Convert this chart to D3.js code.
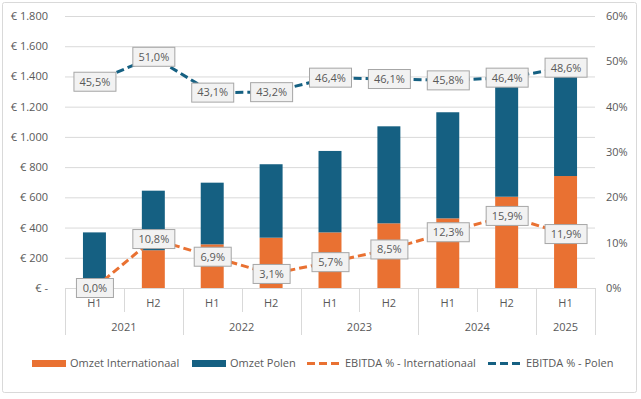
<!DOCTYPE html>
<html><head><meta charset="utf-8">
<script src="https://cdn.jsdelivr.net/npm/d3@7"></script>
<style>body{margin:0;background:#fff}svg{display:block}text{font-family:"Open Sans",sans-serif;fill:#595959}</style>
</head><body><svg id="c" width="641" height="399"></svg>
<script>
const halves = ["H1","H2","H1","H2","H1","H2","H1","H2","H1"];
const years = ["2021","2021","2022","2022","2023","2023","2024","2024","2025"];
const omzetInternationaal = [0, 250, 289, 333, 368, 428, 461, 604, 741];
const omzetPolen = [368, 394, 408, 486, 539, 642, 702, 756, 662];
const ebitdaInternationaal = [0.0, 10.8, 6.9, 3.1, 5.7, 8.5, 12.3, 15.9, 11.9];
const ebitdaPolen = [45.5, 51.0, 43.1, 43.2, 46.4, 46.1, 45.8, 46.4, 48.6];
const leftTicks = [0, 200, 400, 600, 800, 1000, 1200, 1400, 1600, 1800];
const rightTicks = [0, 10, 20, 30, 40, 50, 60];
const seriesNames = ["Omzet Internationaal", "Omzet Polen", "EBITDA % - Internationaal", "EBITDA % - Polen"];

const ORANGE = "#E97132", BLUE = "#156082", GRID = "#d9d9d9";
const svg = d3.select("#c");
const idx = d3.range(halves.length);
const x = d3.scaleBand().domain(idx).range([65, 595]).padding(0);
const yL = d3.scaleLinear().domain([0, 1800]).range([288, 16]);
const yR = d3.scaleLinear().domain([0, 60]).range([288, 16]);
const barW = x.bandwidth() * 0.39;
const cx = i => x(i) + x.bandwidth() / 2;

// border
svg.append("rect").attr("x", 2.5).attr("y", 2.5).attr("width", 634).attr("height", 390)
  .attr("rx", 2).attr("fill", "#fff").attr("stroke", GRID);

// gridlines + left axis
const fmtEur = v => v === 0 ? "€ -" : "€ " + d3.format(",")(v).replace(/,/g, ".");
const gL = svg.append("g").attr("transform", "translate(65,0)")
  .call(d3.axisLeft(yL).tickValues(leftTicks).tickSize(-530).tickFormat(fmtEur));
gL.select(".domain").remove();
gL.selectAll(".tick line").attr("stroke", GRID).attr("stroke-width", 1);
gL.selectAll(".tick text").attr("x", -17).attr("font-size", 11).attr("fill", "#595959");

const gR = svg.append("g").attr("transform", "translate(595,0)")
  .call(d3.axisRight(yR).tickValues(rightTicks).tickSize(0).tickFormat(d => d + "%"));
gR.select(".domain").remove();
gR.selectAll(".tick text").attr("x", 11).attr("font-size", 11).attr("fill", "#595959");

// bars
const stack = idx.map(i => ({i, a: omzetInternationaal[i], b: omzetPolen[i]}));
svg.append("g").selectAll("rect").data(stack).join("rect")
  .attr("x", d => cx(d.i) - barW / 2).attr("width", barW)
  .attr("y", d => yL(d.a)).attr("height", d => yL(0) - yL(d.a)).attr("fill", ORANGE);
svg.append("g").selectAll("rect").data(stack).join("rect")
  .attr("x", d => cx(d.i) - barW / 2).attr("width", barW)
  .attr("y", d => yL(d.a + d.b)).attr("height", d => yL(d.a) - yL(d.a + d.b)).attr("fill", BLUE);

// category axis
const ax = svg.append("g").attr("stroke", GRID).attr("stroke-width", 1);
ax.append("line").attr("x1", 65).attr("x2", 595).attr("y1", 288.5).attr("y2", 288.5);
const bounds = d3.range(halves.length + 1);
bounds.forEach(k => {
  const xx = k === halves.length ? 595 : x(k);
  const isYear = k === 0 || k === halves.length || years[k] !== years[k - 1];
  ax.append("line").attr("x1", Math.round(xx) + 0.5).attr("x2", Math.round(xx) + 0.5)
    .attr("y1", 288).attr("y2", isYear ? 335 : 312);
});
svg.append("g").selectAll("text").data(idx).join("text")
  .attr("x", i => cx(i)).attr("y", 303).attr("dy", "0.35em").attr("text-anchor", "middle")
  .attr("font-size", 11).text(i => halves[i]);
const yearGroups = d3.groups(idx, i => years[i]);
svg.append("g").selectAll("text").data(yearGroups).join("text")
  .attr("x", d => (x(d[1][0]) + x(d[1][d[1].length - 1]) + x.bandwidth()) / 2)
  .attr("y", 327).attr("dy", "0.35em").attr("text-anchor", "middle").attr("font-size", 11)
  .text(d => d[0]);

// lines
const line = arr => d3.line().x((d, i) => cx(i)).y(d => yR(d))(arr);
svg.append("path").attr("d", line(ebitdaInternationaal)).attr("fill", "none")
  .attr("stroke", ORANGE).attr("stroke-width", 3).attr("stroke-dasharray", "8,4");
svg.append("path").attr("d", line(ebitdaPolen)).attr("fill", "none")
  .attr("stroke", BLUE).attr("stroke-width", 3).attr("stroke-dasharray", "8,4");

// labels
const fmtPct = v => d3.format(".1f")(v).replace(".", ",") + "%";
function labels(arr) {
  const g = svg.append("g");
  arr.forEach((v, i) => {
    const t = fmtPct(v);
    const w = t.length >= 5 ? 42 : 37;
    g.append("rect").attr("x", cx(i) - w / 2 + 0.5).attr("y", yR(v) - 9.5)
      .attr("width", w).attr("height", 19).attr("fill", "#f2f2f2").attr("stroke", "#a6a6a6");
    g.append("text").attr("x", cx(i) + 0.5).attr("y", yR(v)).attr("dy", "0.35em")
      .attr("text-anchor", "middle").attr("font-size", 11).text(t);
  });
}
labels(ebitdaInternationaal);
labels(ebitdaPolen);

// legend
const lg = svg.append("g").attr("font-size", 11);
const items = [
  {x: 32, type: "bar", c: ORANGE, t: seriesNames[0]},
  {x: 192, type: "bar", c: BLUE, t: seriesNames[1]},
  {x: 307, type: "line", c: ORANGE, t: seriesNames[2]},
  {x: 488, type: "line", c: BLUE, t: seriesNames[3]}
];
items.forEach(it => {
  if (it.type === "bar") lg.append("rect").attr("x", it.x).attr("y", 360).attr("width", 34).attr("height", 7).attr("fill", it.c);
  else lg.append("line").attr("x1", it.x).attr("x2", it.x + 34).attr("y1", 363.5).attr("y2", 363.5)
    .attr("stroke", it.c).attr("stroke-width", 3).attr("stroke-dasharray", "8,4");
  lg.append("text").attr("x", it.x + 38).attr("y", 363.5).attr("dy", "0.35em").text(it.t);
});
</script></body></html>
